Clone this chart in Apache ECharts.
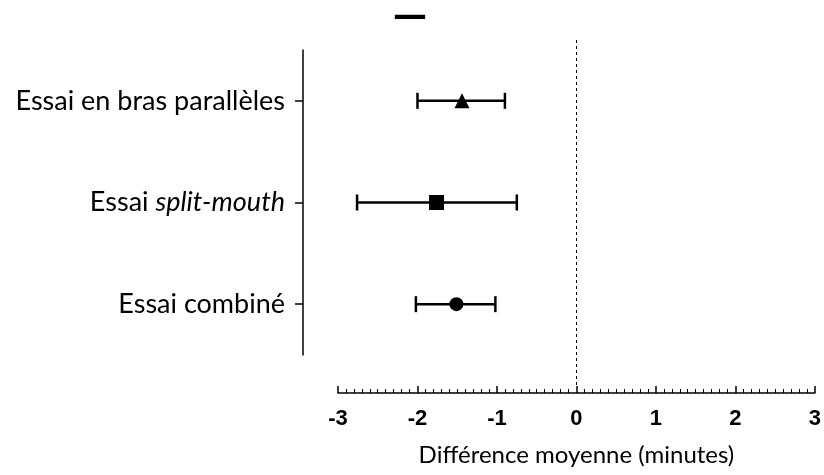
<!DOCTYPE html>
<html>
<head>
<meta charset="utf-8">
<script src="https://cdn.jsdelivr.net/npm/echarts@6/dist/echarts.min.js"></script>
<style>
  html, body { margin: 0; padding: 0; background: #fff; }
  #chart { width: 824px; height: 475px; }
</style>
</head>
<body>
<div id="chart"></div>
<script>
const categories = ['Essai en bras parallèles', 'Essai split-mouth', 'Essai combiné']
const meanDiff = [-1.44, -1.76, -1.51]
const ciLow = [-2.0, -2.76, -2.02]
const ciHigh = [-0.9, -0.75, -1.02]
const markers = ['triangle', 'rect', 'circle']
const markerSizes = [15, 15, 14]
const xTicks = [-3, -2, -1, 0, 1, 2, 3]

const font = 'Lato'

const barData = categories.map((c, i) => [i, ciLow[i], ciHigh[i]])
const pointData = categories.map((c, i) => ({
  value: [meanDiff[i], i],
  symbol: markers[i],
  symbolSize: markerSizes[i]
}))

const chart = echarts.init(document.getElementById('chart'))
chart.setOption({
  animation: false,
  title: {
    text: '—',
    left: 388,
    top: -5,
    textStyle: { fontFamily: 'DejaVu Sans', fontSize: 34, fontWeight: 'bold', color: '#000' }
  },
  grid: [
    { left: 338, right: 9, top: 50, bottom: 120 },
    { left: 338, right: 9, top: 38, bottom: 90 }
  ],
  xAxis: [
    {
      type: 'value',
      gridIndex: 0,
      min: xTicks[0],
      max: xTicks[xTicks.length - 1],
      interval: 1,
      position: 'bottom',
      offset: 38,
      name: 'Différence moyenne (minutes)',
      nameLocation: 'middle',
      nameGap: 50,
      nameTextStyle: { fontFamily: font, fontSize: 24, color: '#000' },
      axisLine: { show: true, onZero: false, lineStyle: { color: '#000', width: 1.5 } },
      axisTick: { show: true, inside: true, length: 7, lineStyle: { color: '#000', width: 1.5 } },
      minorTick: { show: true, splitNumber: 10, length: 4, lineStyle: { color: '#000', width: 1 } },
      splitLine: { show: false },
      axisLabel: {
        margin: 15,
        fontFamily: 'Liberation Sans',
        fontWeight: 'bold',
        fontSize: 22,
        color: '#000',
        formatter: v => String(v)
      }
    },
    {
      type: 'value',
      gridIndex: 1,
      min: xTicks[0],
      max: xTicks[xTicks.length - 1],
      show: false
    }
  ],
  yAxis: [
    {
      type: 'category',
      gridIndex: 0,
      data: categories,
      inverse: true,
      position: 'left',
      offset: 35,
      axisLine: { show: true, onZero: false, lineStyle: { color: '#000', width: 1.5 } },
      axisTick: { show: true, alignWithLabel: true, length: 8, lineStyle: { color: '#000', width: 1.5 } },
      splitLine: { show: false },
      axisLabel: {
        margin: 18,
        fontFamily: font,
        fontSize: 27,
        color: '#000',
        formatter: v => v === 'Essai split-mouth' ? '{n|Essai }{i|split-mouth}' : '{n|' + v + '}',
        rich: {
          n: { fontFamily: font, fontSize: 27, color: '#000' },
          i: { fontFamily: font, fontSize: 27, fontStyle: 'italic', color: '#000' }
        }
      }
    },
    {
      type: 'value',
      gridIndex: 1,
      min: 0,
      max: 1,
      show: false
    }
  ],
  series: [
    {
      type: 'line',
      xAxisIndex: 1,
      yAxisIndex: 1,
      data: [],
      markLine: {
        silent: true,
        symbol: 'none',
        label: { show: false },
        lineStyle: { color: '#000', type: [3, 3], width: 1 },
        data: [{ xAxis: 0 }]
      }
    },
    {
      type: 'custom',
      xAxisIndex: 0,
      yAxisIndex: 0,
      data: barData,
      renderItem: (params, api) => {
        const cat = api.value(0)
        const lo = api.coord([api.value(1), cat])
        const hi = api.coord([api.value(2), cat])
        const h = 8
        const style = { stroke: '#000', lineWidth: 2.5 }
        return {
          type: 'group',
          children: [
            { type: 'line', shape: { x1: lo[0], y1: lo[1], x2: hi[0], y2: hi[1] }, style },
            { type: 'line', shape: { x1: lo[0], y1: lo[1] - h, x2: lo[0], y2: lo[1] + h }, style },
            { type: 'line', shape: { x1: hi[0], y1: hi[1] - h, x2: hi[0], y2: hi[1] + h }, style }
          ]
        }
      },
      z: 2
    },
    {
      type: 'scatter',
      xAxisIndex: 0,
      yAxisIndex: 0,
      data: pointData,
      itemStyle: { color: '#000', opacity: 1 },
      z: 3
    }
  ]
})
</script>
</body>
</html>
